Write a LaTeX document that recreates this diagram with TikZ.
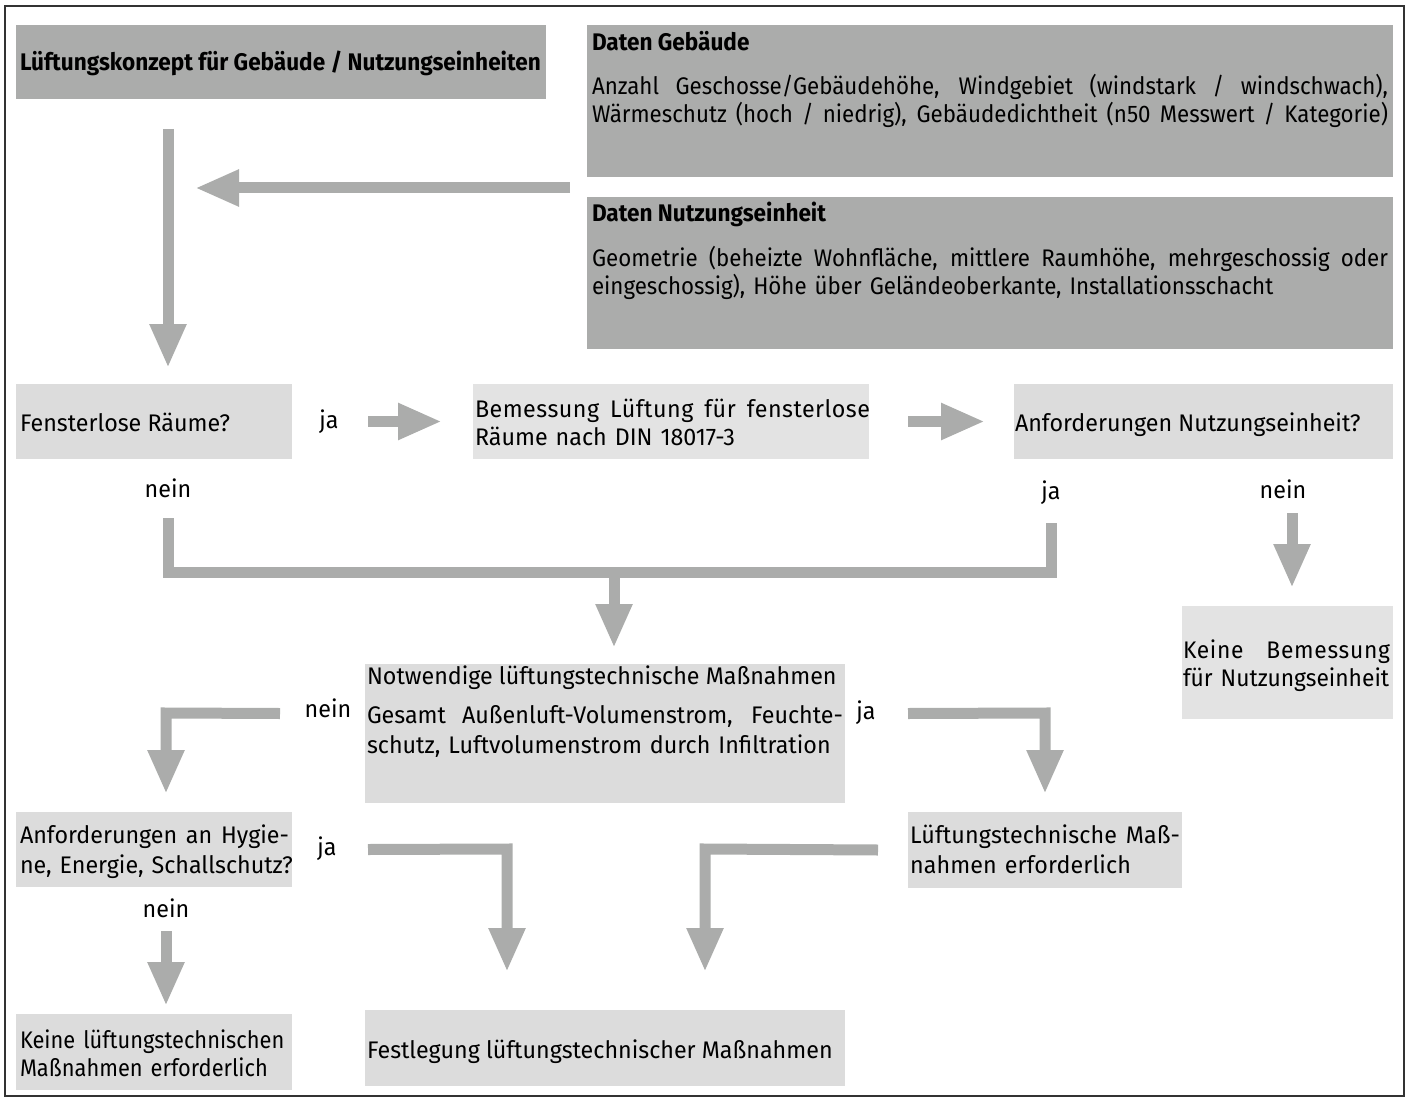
\documentclass[tikz,border=0pt]{standalone}
\usepackage{fontspec}
\setmainfont[FakeStretch=0.97, BoldFeatures={FakeStretch=0.94}]{Fira Sans}
\usetikzlibrary{arrows.meta,calc}
\definecolor{dk}{HTML}{ABACAB}
\definecolor{lt}{HTML}{DCDCDC}
\definecolor{lta}{HTML}{E3E3E3}
\definecolor{ar}{HTML}{ABACAB}
\tikzset{
  box/.style={draw=none, inner sep=0pt, outer sep=0pt, anchor=north west},
  dkbox/.style={box, fill=dk},
  ltbox/.style={box, fill=lt},
  ltabox/.style={box, fill=lta},
  txt/.style={inner sep=0pt, outer sep=0pt, anchor=base west, align=left,
    font=\fontsize{24}{28}\selectfont},
  btxt/.style={txt, font=\fontsize{24}{28}\selectfont\bfseries},
  lbl/.style={inner sep=0pt, outer sep=0pt, anchor=base,
    font=\fontsize{24}{28}\selectfont},
  flow/.style={draw=ar, line width=11pt, line join=miter,
    -{Triangle[width=34pt,length=44pt]}},
  bar/.style={draw=ar, line width=11pt, line join=miter},
}
\newcommand\mybox[6]{\node[#6, minimum width={(#4-#2)*1pt}, minimum height={(#5-#3)*1pt}] (#1) at (#2,#3) {};}
\newcommand\jline[2]{\hbox to #1pt{\spaceskip=0.25em plus 1fil minus 0.08em\relax #2}}
\begin{document}
\begin{tikzpicture}[x=1pt,y=-1pt]
\useasboundingbox (0,0) rectangle (1410,1099);
\draw[line width=1.3pt, black!80] (5,6) rectangle (1404,1096);
% boxes
\mybox{title}{16}{25}{546}{99}{dkbox}
\mybox{geb}{587}{25}{1393}{177}{dkbox}
\mybox{nutz}{587}{197}{1393}{349}{dkbox}
\mybox{fen}{16}{384}{292}{459}{ltbox}
\mybox{bem}{473}{384}{869}{459}{ltabox}
\mybox{anf}{1014}{384}{1393}{459}{ltbox}
\mybox{keinB}{1182}{606}{1393}{719}{ltabox}
\mybox{notw}{365}{664}{845}{803}{ltbox}
\mybox{hyg}{16}{812}{292}{887}{ltbox}
\mybox{lmass}{908}{812}{1182}{888}{ltbox}
\mybox{keinL}{16}{1014}{292}{1090}{ltbox}
\mybox{fest}{365}{1010}{845}{1086}{ltbox}
% texts
\node[btxt] (titleT) at (20,71) {Lüftungskonzept für Gebäude / Nutzungseinheiten};
\node[btxt] (gebH) at (592,51) {Daten Gebäude};
\node[txt, text width=820pt] (gebT) at (592,95) {\addfontfeature{FakeStretch=0.93}\jline{796}{Anzahl Geschosse/Gebäudehöhe, Windgebiet (windstark / windschwach),}\\\jline{796}{Wärmeschutz (hoch / niedrig), Gebäudedichtheit (n50 Messwert / Kategorie)}};
\node[btxt] (nutzH) at (592,222) {Daten Nutzungseinheit};
\node[txt, text width=820pt] (nutzT) at (592,267) {\addfontfeature{FakeStretch=0.93}\jline{796}{Geometrie (beheizte Wohnfläche, mittlere Raumhöhe, mehrgeschossig oder}\\eingeschossig), Höhe über Geländeoberkante, Installationsschacht};
\node[txt] (fenT) at (20,431) {Fensterlose Räume?};
\node[txt, text width=420pt] (bemT) at (475,417) {\jline{395}{\addfontfeature{LetterSpace=2}Bemessung Lüftung für fensterlose}\\\mbox{Räume nach DIN 18017-3}};
\node[txt] (anfT) at (1015,431) {Anforderungen Nutzungseinheit?};
\node[txt, text width=260pt] (keinBT) at (1183,658) {\addfontfeature{FakeStretch=0.95}\jline{207}{\addfontfeature{LetterSpace=3}Keine Bemessung}\\\mbox{für Nutzungseinheit}};
\node[txt] (notwH) at (367,684) {Notwendige lüftungstechnische Maßnahmen};
\node[txt, text width=520pt, font=\fontsize{24}{30}\selectfont] (notwT) at (367,723) {\jline{476}{Gesamt Außenluft-Volumenstrom, Feuchte-}\\\mbox{schutz, Luftvolumenstrom durch Infiltration}};
\node[txt, text width=320pt, font=\fontsize{24}{30}\selectfont] (hygT) at (20,843) {\jline{269}{Anforderungen an Hygie-}\\\mbox{ne, Energie, Schallschutz?}};
\node[txt, text width=320pt, font=\fontsize{24}{30}\selectfont] (lmassT) at (910,843) {\jline{270}{\addfontfeature{LetterSpace=0.5}Lüftungstechnische Maß-}\\\mbox{\addfontfeature{LetterSpace=0.5}nahmen erforderlich}};
\node[txt, text width=320pt] (keinLT) at (20,1048) {\addfontfeature{FakeStretch=0.91}\mbox{Keine lüftungstechnischen}\\\mbox{Maßnahmen erforderlich}};
\node[txt] (festT) at (367,1058) {Festlegung lüftungstechnischer Maßnahmen};
% labels
\node[lbl] (ja1) at (329,428) {ja};
\node[lbl] (nein1) at (168,497) {nein};
\node[lbl] (ja2) at (1051,499) {ja};
\node[lbl] (nein2) at (1283,498) {nein};
\node[lbl] (nein3) at (328,717) {nein};
\node[lbl] (ja3) at (866,719) {ja};
\node[lbl] (ja4) at (327,855) {ja};
\node[lbl] (nein4) at (166,917) {nein};
% connector coordinates
\coordinate (a1s) at ($(title.south west)+(152,30)$);
\coordinate (a1e) at ($(fen.north west)+(152,-16)$);
\coordinate (a2s) at ($(geb.south west)+(-17,11)$);
\coordinate (a2e) at ($(title.south west)+(179,89)$);
\coordinate (a3s) at ($(fen.east)+(76,0)$);
\coordinate (a3e) at ($(bem.west)+(-31,0)$);
\coordinate (a4s) at ($(bem.east)+(39,0)$);
\coordinate (a4e) at ($(anf.west)+(-29,0)$);
\coordinate (m1) at ($(fen.south west)+(152,59)$);
\coordinate (m2) at ($(fen.south west)+(152,113)$);
\coordinate (m3) at ($(anf.south west)+(37,113)$);
\coordinate (m4) at ($(anf.south west)+(37,64)$);
\coordinate (m5) at ($(notw.north west)+(249,-91)$);
\coordinate (a5e) at ($(notw.north west)+(249,-16)$);
\coordinate (a6s) at ($(anf.south west)+(278,54)$);
\coordinate (a6e) at ($(keinB.north west)+(110,-18)$);
\coordinate (a7s) at ($(notw.west)+(-85,-20)$);
\coordinate (a7c) at ($(hyg.north west)+(150,-99)$);
\coordinate (a7e) at ($(hyg.north west)+(150,-18)$);
\coordinate (a8s) at ($(notw.east)+(63,-20)$);
\coordinate (a8c) at ($(lmass.north west)+(137,-99)$);
\coordinate (a8e) at ($(lmass.north west)+(137,-18)$);
\coordinate (a9s) at ($(hyg.east)+(76,0)$);
\coordinate (a9c) at ($(fest.north west)+(142,-161)$);
\coordinate (a9e) at ($(fest.north west)+(142,-38)$);
\coordinate (a10s) at ($(lmass.west)+(-30,0)$);
\coordinate (a10c) at ($(fest.north west)+(340,-161)$);
\coordinate (a10e) at ($(fest.north west)+(340,-38)$);
\coordinate (a11s) at ($(hyg.south west)+(150,44)$);
\coordinate (a11e) at ($(keinL.north west)+(150,-8)$);
% connectors
\draw[flow] (a1s) -- (a1e);
\draw[flow] (a2s) -- (a2e);
\draw[flow] (a3s) -- (a3e);
\draw[flow] (a4s) -- (a4e);
\draw[bar] (m1) -- (m2) -- (m3) -- (m4);
\draw[flow] (m5) -- (a5e);
\draw[flow] (a6s) -- (a6e);
\draw[flow] (a7s) -- (a7c) -- (a7e);
\draw[flow] (a8s) -- (a8c) -- (a8e);
\draw[flow] (a9s) -- (a9c) -- (a9e);
\draw[flow] (a10s) -- (a10c) -- (a10e);
\draw[flow] (a11s) -- (a11e);
\end{tikzpicture}
\end{document}
